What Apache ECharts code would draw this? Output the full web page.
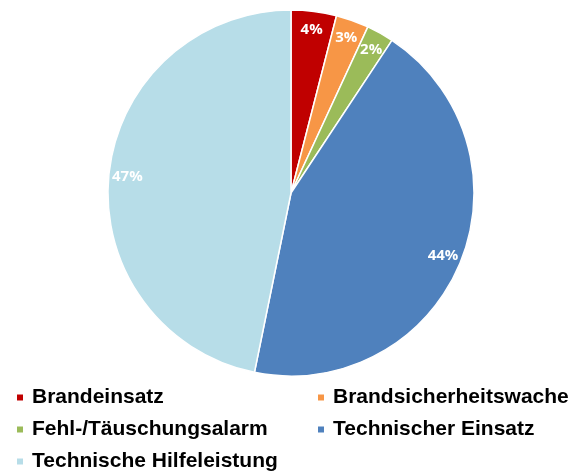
<!DOCTYPE html>
<html>
<head>
<meta charset="utf-8">
<script src="https://cdn.jsdelivr.net/npm/echarts@6/dist/echarts.min.js"></script>
<style>
  html, body { margin: 0; padding: 0; background: #fff; }
  #chart { width: 585px; height: 472px; }
</style>
</head>
<body>
<div id="chart"></div>
<script>
// Einsatzarten (Anteil in %)
const categories = ['Brandeinsatz', 'Brandsicherheitswache', 'Fehl-/Täuschungsalarm', 'Technischer Einsatz', 'Technische Hilfeleistung'];
const shares = [4.0, 2.9, 2.4, 43.9, 46.8];
const colors = ['#C00000', '#F79646', '#9BBB59', '#4F81BD', '#B7DDE8'];

// Legende in zwei Spalten
const legendLeft = ['Brandeinsatz', 'Fehl-/Täuschungsalarm', 'Technische Hilfeleistung'];
const legendRight = ['Brandsicherheitswache', 'Technischer Einsatz'];

const pieData = categories.map((name, i) => ({
  name: name,
  value: shares[i],
  itemStyle: { color: colors[i] }
}));

const chart = echarts.init(document.getElementById('chart'));

const legendBase = {
  orient: 'vertical',
  top: 382,
  height: 150,
  itemWidth: 8,
  itemHeight: 8,
  itemGap: 11,
  icon: 'rect',
  selectedMode: false,
  textStyle: {
    fontFamily: 'Liberation Sans, Arial, sans-serif',
    fontWeight: 'bold',
    fontSize: 21,
    color: '#000',
    padding: [0, 0, 0, 3]
  }
};

chart.setOption({
  animation: false,
  color: colors,
  legend: [
    Object.assign({}, legendBase, { left: 10, data: legendLeft }),
    Object.assign({}, legendBase, { left: 311, data: legendRight })
  ],
  series: [
    {
      type: 'pie',
      center: [291, 193],
      radius: [0, 183],
      startAngle: 90,
      clockwise: true,
      label: { show: false },
      labelLine: { show: false },
      itemStyle: { borderColor: '#fff', borderWidth: 1.5 },
      emphasis: { disabled: true },
      data: pieData
    },
    {
      // nur für die Beschriftung am äußeren Rand
      type: 'pie',
      center: [291, 193],
      radius: [140, 183],
      startAngle: 90,
      clockwise: true,
      silent: true,
      itemStyle: { color: 'transparent', borderWidth: 0 },
      emphasis: { disabled: true },
      label: {
        show: true,
        position: 'inside',
        formatter: p => Math.round(p.value) + '%',
        color: '#fff',
        fontFamily: 'Open Sans, sans-serif',
        fontWeight: 'bold',
        fontSize: 15
      },
      labelLine: { show: false },
      data: categories.map((name, i) => ({ name: name, value: shares[i] }))
    }
  ]
});
</script>
</body>
</html>
